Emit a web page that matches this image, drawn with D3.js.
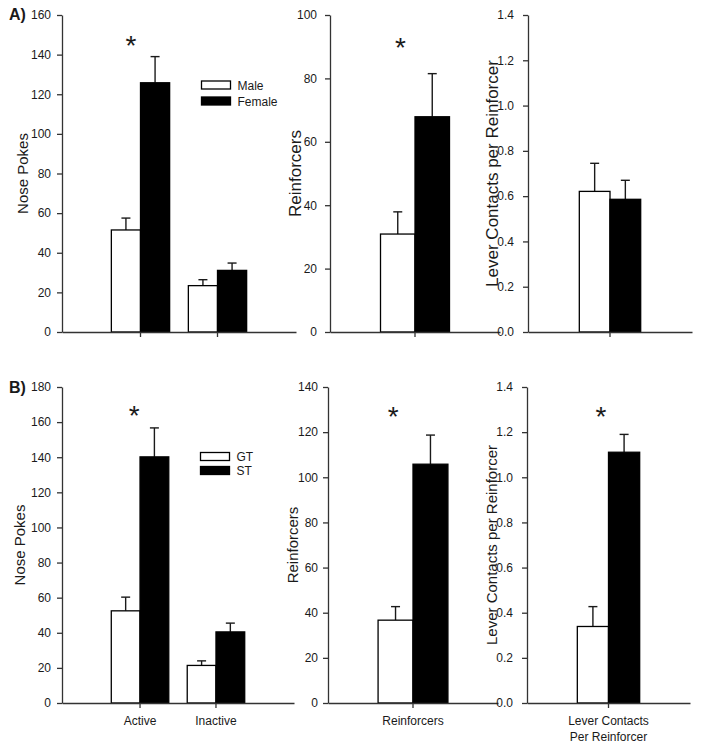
<!DOCTYPE html>
<html>
<head>
<meta charset="utf-8">
<script src="https://cdn.jsdelivr.net/npm/d3@7"></script>
<style>
  html, body { margin: 0; padding: 0; background: #fff; }
  svg { display: block; font-family: Arial, "Liberation Sans", sans-serif; }
</style>
</head>
<body>
<svg id="chart" width="701" height="750"></svg>
<script>
// ---------------- DATA ----------------
const groupsA = ["Male", "Female"];
const groupsB = ["GT", "ST"];

const pokeCategories = ["Active", "Inactive"];
const reinfCategories = ["Reinforcers"];
const leverCategories = ["Lever Contacts|Per Reinforcer"];

// Panel A (sex)
const pokesMale = [51.5, 23.4];
const pokesMaleErr = [6.0, 3.0];
const pokesFemale = [125.8, 31.1];
const pokesFemaleErr = [13.2, 3.7];
const reinfMale = [30.9];
const reinfMaleErr = [7.0];
const reinfFemale = [67.9];
const reinfFemaleErr = [13.6];
const leverMale = [0.621];
const leverMaleErr = [0.124];
const leverFemale = [0.586];
const leverFemaleErr = [0.084];

// Panel B (GT / ST)
const pokesGT = [52.5, 21.4];
const pokesGTErr = [7.8, 2.6];
const pokesST = [140.2, 40.5];
const pokesSTErr = [16.5, 5.0];
const reinfGT = [36.7];
const reinfGTErr = [6.0];
const reinfST = [105.8];
const reinfSTErr = [12.9];
const leverGT = [0.339];
const leverGTErr = [0.088];
const leverST = [1.111];
const leverSTErr = [0.079];

// significance markers (value on y axis where the asterisk sits; null = none)
const starPokesA = [148, null];
const starReinfA = [91.8];
const starLeverA = [null];
const starPokesB = [167.7, null];
const starReinfB = [129.7];
const starLeverB = [1.297];

// tick values
const ticksPokesA = d3.range(0, 161, 20);
const ticksReinfA = d3.range(0, 101, 20);
const ticksLever = [0, 0.2, 0.4, 0.6, 0.8, 1.0, 1.2, 1.4];
const ticksPokesB = d3.range(0, 181, 20);
const ticksReinfB = d3.range(0, 141, 20);

// ---------------- LAYOUT ----------------
const svg = d3.select("#chart");
const ink = "#1a1a1a";
const axisCol = "#333";

const panels = [
  { cats: pokeCategories, groups: groupsA, vals: [pokesMale, pokesFemale], errs: [pokesMaleErr, pokesFemaleErr],
    stars: starPokesA, ymax: 160, ticks: ticksPokesA, fmt: d3.format("d"), title: "Nose Pokes", titleSize: 15, titleX: 28,
    left: 62, right: 296, top: 15, bottom: 332, pi: 0.243, po: 0.641, starFrac: 0.336, showCats: false, pad: 6 },
  { cats: reinfCategories, groups: groupsA, vals: [reinfMale, reinfFemale], errs: [reinfMaleErr, reinfFemaleErr],
    stars: starReinfA, ymax: 100, ticks: ticksReinfA, fmt: d3.format("d"), title: "Reinforcers", titleSize: 17, titleX: 301,
    left: 330, right: 500, top: 15, bottom: 332, pi: 0, po: 0.732, starFrac: 0.29, showCats: false, pad: 8 },
  { cats: leverCategories, groups: groupsA, vals: [leverMale, leverFemale], errs: [leverMaleErr, leverFemaleErr],
    stars: starLeverA, ymax: 1.4, ticks: ticksLever, fmt: d3.format(".1f"), title: "Lever Contacts per Reinforcer", titleSize: 17, titleX: 498,
    left: 528, right: 692, top: 15, bottom: 332, pi: 0, po: 0.836, starFrac: 0.35, showCats: false, pad: 9 },
  { cats: pokeCategories, groups: groupsB, vals: [pokesGT, pokesST], errs: [pokesGTErr, pokesSTErr],
    stars: starPokesB, ymax: 180, ticks: ticksPokesB, fmt: d3.format("d"), title: "Nose Pokes", titleSize: 15, titleX: 25,
    left: 62, right: 294, top: 387, bottom: 703, pi: 0.243, po: 0.649, starFrac: 0.40, showCats: true, pad: 6 },
  { cats: reinfCategories, groups: groupsB, vals: [reinfGT, reinfST], errs: [reinfGTErr, reinfSTErr],
    stars: starReinfB, ymax: 140, ticks: ticksReinfB, fmt: d3.format("d"), title: "Reinforcers", titleSize: 15, titleX: 298,
    left: 328, right: 498, top: 387, bottom: 703, pi: 0, po: 0.717, starFrac: 0.215, showCats: true, pad: 5 },
  { cats: leverCategories, groups: groupsB, vals: [leverGT, leverST], errs: [leverGTErr, leverSTErr],
    stars: starLeverB, ymax: 1.4, ticks: ticksLever, fmt: d3.format(".1f"), title: "Lever Contacts per Reinforcer", titleSize: 15, titleX: 497,
    left: 527, right: 690, top: 387, bottom: 703, pi: 0, po: 0.807, starFrac: 0.378, showCats: true, pad: 9 }
];

panels.forEach(p => {
  const g = svg.append("g");
  const y = d3.scaleLinear().domain([0, p.ymax]).range([p.bottom, p.top]);
  const x = d3.scaleBand().domain(p.cats).range([p.left, p.right]).paddingInner(p.pi).paddingOuter(p.po);
  const xs = d3.scaleBand().domain(p.groups).range([0, x.bandwidth()]);

  // bars
  p.groups.forEach((grp, gi) => {
    const rows = p.cats.map((c, ci) => ({ c, v: p.vals[gi][ci], e: p.errs[gi][ci] }));
    const cx = d => x(d.c) + xs(grp) + xs.bandwidth() / 2;
    // error bars (upward only)
    g.selectAll(null).data(rows).enter().append("line")
      .attr("x1", cx).attr("x2", cx)
      .attr("y1", d => y(d.v)).attr("y2", d => y(d.v + d.e))
      .attr("stroke", ink).attr("stroke-width", 1.4);
    g.selectAll(null).data(rows).enter().append("line")
      .attr("x1", d => cx(d) - 4.5).attr("x2", d => cx(d) + 4.5)
      .attr("y1", d => y(d.v + d.e)).attr("y2", d => y(d.v + d.e))
      .attr("stroke", ink).attr("stroke-width", 1.4);
    g.selectAll(null).data(rows).enter().append("rect")
      .attr("x", d => x(d.c) + xs(grp))
      .attr("width", xs.bandwidth())
      .attr("y", d => y(d.v))
      .attr("height", d => y(0) - y(d.v))
      .attr("fill", gi === 0 ? "#fff" : "#000")
      .attr("stroke", "#000").attr("stroke-width", 1.3);
  });

  // y axis
  const ya = g.append("g").attr("transform", `translate(${p.left},0)`)
    .call(d3.axisLeft(y).tickValues(p.ticks).tickFormat(p.fmt).tickSize(5).tickSizeOuter(0).tickPadding(p.pad));
  // x axis
  const xa = g.append("g").attr("transform", `translate(0,${p.bottom})`)
    .call(d3.axisBottom(x).tickSize(5).tickSizeOuter(0).tickFormat(""));
  [ya, xa].forEach(a => {
    a.select(".domain").attr("stroke", axisCol).attr("stroke-width", 1.3);
    a.selectAll(".tick line").attr("stroke", axisCol).attr("stroke-width", 1.3);
    a.selectAll("text").attr("fill", ink).attr("font-size", 12)
      .attr("font-family", 'Arial, "Liberation Sans", sans-serif');
  });

  // category labels
  if (p.showCats) {
    p.cats.forEach(c => {
      const lines = c.split("|");
      const t = g.append("text").attr("text-anchor", "middle").attr("font-size", 12).attr("fill", ink);
      lines.forEach((ln, i) => {
        t.append("tspan").attr("x", x(c) + x.bandwidth() / 2).attr("y", p.bottom + 21.5 + i * 16).text(ln);
      });
    });
  }

  // y title
  g.append("text")
    .attr("transform", `translate(${p.titleX},${(p.top + p.bottom) / 2}) rotate(-90)`)
    .attr("text-anchor", "middle").attr("font-size", p.titleSize).attr("fill", ink)
    .text(p.title);

  // asterisks
  p.cats.forEach((c, ci) => {
    const s = p.stars[ci];
    if (s == null) return;
    g.append("text")
      .attr("x", x(c) + x.bandwidth() * p.starFrac)
      .attr("y", y(s) + 16)
      .attr("text-anchor", "middle").attr("font-size", 28).attr("fill", ink)
      .text("*");
  });
});

// legends
function legend(groups, x0, y0, gap) {
  groups.forEach((grp, i) => {
    svg.append("rect").attr("x", x0).attr("y", y0 + i * gap).attr("width", 29).attr("height", 8)
      .attr("fill", i === 0 ? "#fff" : "#000").attr("stroke", "#000").attr("stroke-width", 1.3);
    svg.append("text").attr("x", x0 + 36).attr("y", y0 + i * gap + 8.5)
      .attr("font-size", 12).attr("fill", ink).text(grp);
  });
}
legend(groupsA, 201.5, 81, 16);
legend(groupsB, 200.5, 452.5, 14);

// panel letters
svg.append("text").attr("x", 9).attr("y", 20).attr("font-size", 16).attr("font-weight", "bold").attr("fill", ink).text("A)");
svg.append("text").attr("x", 9).attr("y", 393).attr("font-size", 16).attr("font-weight", "bold").attr("fill", ink).text("B)");
</script>
</body>
</html>
